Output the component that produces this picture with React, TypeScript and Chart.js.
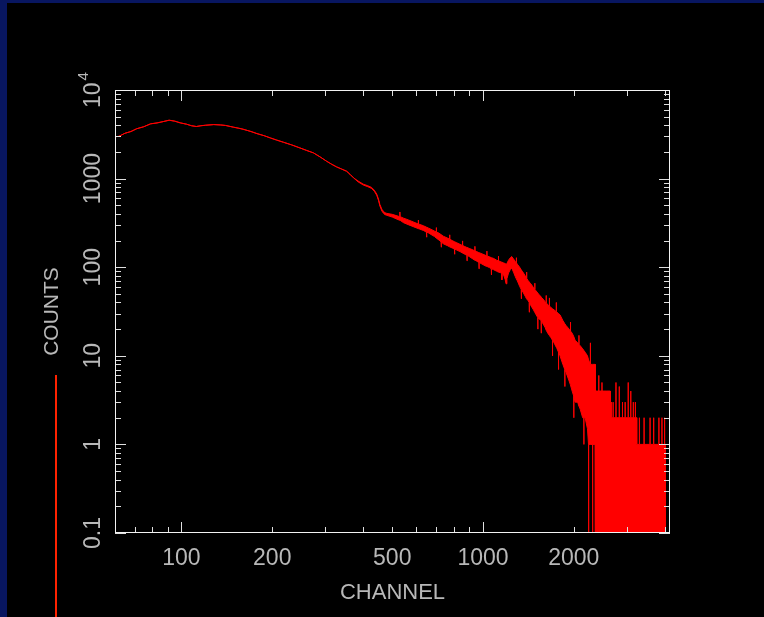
import React, { useEffect, useRef } from "react";
import { Chart, registerables } from "chart.js";

Chart.register(...registerables);

// ---- data (upper / lower envelope of the noisy histogram) ----
const smoothChannels = [
  60, 62, 65, 68, 71, 75, 79, 83, 87, 91, 95, 99, 104, 108, 112, 116, 120, 128, 135, 140,
  149, 155, 160, 170, 178, 188, 197, 207, 218, 232, 247, 260, 274, 288, 303, 315, 327, 340,
  353, 362, 372, 385, 401, 415, 427, 436, 444, 450, 455, 462, 468, 473,
];
const smoothHigh = [
  2960, 3000, 3250, 3400, 3650, 3850, 4150, 4250, 4400, 4560, 4450, 4260, 4110, 3950, 3870, 3950, 4000, 4070, 4030, 3980,
  3800, 3700, 3610, 3400, 3220, 3050, 2880, 2720, 2570, 2400, 2220, 2080, 1950, 1760, 1570, 1450, 1355, 1280,
  1210, 1120, 1020, 940, 865, 830, 795, 740, 670, 590, 510, 450, 425, 412,
];
const smoothLow = [
  2960, 3000, 3250, 3400, 3650, 3850, 4150, 4250, 4400, 4560, 4450, 4260, 4110, 3950, 3870, 3950, 4000, 4070, 4030, 3980,
  3800, 3700, 3610, 3400, 3220, 3050, 2880, 2720, 2570, 2400, 2220, 2080, 1950, 1760, 1570, 1450, 1355, 1280,
  1210, 1120, 1020, 920, 845, 810, 775, 720, 650, 570, 490, 430, 405, 392,
];

const midChannels = [
  480, 500, 525, 529, 530, 531, 545, 565, 590, 609, 610, 611, 615, 634, 649, 650, 651, 660,
  690, 699, 700, 701, 715, 726, 727, 728, 738, 765, 774, 775, 776, 790, 804, 805, 806, 815,
  839, 854, 855, 856, 870, 884, 885, 886, 900, 925, 939, 940, 941, 953, 969, 970, 971, 985,
  1015, 1029, 1030, 1031, 1050, 1065, 1066, 1067, 1082, 1110, 1124, 1125, 1126, 1140, 1154, 1155, 1156, 1167,
  1185, 1192, 1200, 1215, 1232, 1245, 1262, 1280, 1289, 1290, 1291, 1300, 1325, 1339, 1340, 1341, 1350, 1380,
  1394, 1395, 1396, 1410, 1423, 1424, 1425, 1440, 1470, 1484, 1485, 1486, 1500, 1519, 1520, 1521, 1535,
  1559, 1560, 1561, 1570, 1605, 1619, 1620, 1621, 1640, 1659, 1660, 1661, 1680, 1699, 1700, 1701, 1720,
  1749, 1750, 1751, 1760, 1779, 1780, 1781, 1800, 1840, 1867, 1868, 1869, 1885, 1930, 1949, 1950, 1951, 1975,
  1999, 2000, 2001, 2020, 2060, 2079, 2080, 2081, 2100, 2140, 2159, 2160, 2161, 2180, 2220, 2238, 2240, 2242,
  2269, 2270, 2271, 2309, 2310, 2311, 2355,
];
const midHigh = [
  405, 395, 375, 372, 420, 372, 358, 342, 322, 308, 340, 308, 305, 294, 283, 283, 283, 276,
  256, 250, 280, 250, 242, 233, 233, 233, 224, 212, 207, 232, 207, 200, 194, 194, 194, 190,
  181, 176, 198, 176, 171, 167, 167, 167, 163, 157, 153, 172, 153, 150, 146, 146, 146, 143,
  137, 134, 152, 134, 131, 128, 128, 128, 126, 120, 118, 133, 118, 116, 114, 114, 114, 112,
  110, 108, 110, 120, 128, 132, 124, 116, 112, 128, 112, 108, 99, 93, 93, 93, 90, 80,
  75, 88, 75, 71, 68, 68, 68, 65, 59, 56, 66, 56, 54, 51, 51, 51, 49,
  46, 46, 46, 45, 41, 39.5, 48, 39.5, 38, 36.5, 45, 36.5, 35, 34, 34, 34, 33,
  31.5, 40, 31.5, 31, 30, 30, 30, 29, 25, 23, 23, 23, 22, 20, 19, 24, 19, 18,
  16.5, 16.5, 16.5, 15, 14, 13.5, 17, 13.5, 13, 12, 11.5, 11.5, 11.5, 11, 10, 9, 9, 9,
  8, 14, 8, 8, 8, 8, 8,
];
const midLow = [
  385, 368, 342, 338, 338, 338, 318, 302, 285, 273, 273, 273, 270, 260, 249, 218, 249, 243,
  222, 214, 214, 214, 202, 193, 168, 193, 184, 174, 170, 170, 170, 165, 160, 140, 160, 157,
  150, 145, 145, 145, 140, 136, 118, 136, 132, 124, 120, 120, 120, 117, 113, 96, 113, 110,
  104, 102, 102, 102, 99, 96, 82, 96, 94, 90, 88, 88, 88, 87, 85, 72, 85, 84,
  72, 65, 74, 86, 94, 98, 88, 78, 74, 74, 74, 70, 60, 56, 44, 56, 54, 47,
  44, 44, 44, 42, 40, 31, 40, 37, 33, 31, 31, 31, 29, 27, 20, 27, 26,
  25, 18, 25, 24, 21, 19.5, 19.5, 19.5, 18, 17, 17, 17, 16, 15, 10, 15, 14,
  12.5, 12.5, 12.5, 12, 11, 7, 11, 10, 8, 7, 4.5, 7, 6.5, 5.2, 4.7, 4.7, 4.7, 4,
  3.5, 2, 3.5, 3, 3, 2.7, 2.7, 2.7, 2.5, 2, 2, 1, 2, 2, 1.5, 1, 0.05, 1,
  1, 1, 1, 1, 0.05, 1, 1,
];

// tail: integer counts, empty channels (0) drawn below the axis floor
const tailChannels = [
  2358, 2400, 2419, 2420, 2421, 2479, 2480, 2481, 2560, 2643, 2645, 2659, 2661,
  2699, 2700, 2701, 2759, 2760, 2761, 2829, 2830, 2831, 2899, 2900, 2901,
  2959, 2960, 2961, 3029, 3030, 3031, 3089, 3090, 3091, 3149, 3150, 3151, 3199, 3200, 3201,
  3232, 3234,
  3299, 3300, 3301, 3419, 3420, 3421, 3579, 3580, 3581, 3679, 3680, 3681,
  3829, 3830, 3831, 3919, 3920, 3921, 3999, 4000, 4001, 4045,
];
const tailHigh = [
  4, 4, 4, 6, 4, 4, 5, 4, 4, 4, 3, 3, 2,
  2, 3, 2, 2, 5, 2, 2, 4.5, 2, 2, 3, 2,
  2, 3, 2, 2, 5, 2, 2, 4, 2, 2, 3, 2, 2, 3, 2,
  2, 1,
  1, 2, 1, 1, 2, 1, 1, 2, 1, 1, 2, 1,
  1, 2, 1, 1, 2, 1, 1, 2, 1, 1,
];
const tailLow = [
  0.05, 0.05, 0.05, 0.05, 0.05, 0.05, 0.05, 0.05, 0.05, 0.05, 0.05, 0.05, 0.05,
  0.05, 0.05, 0.05, 0.05, 0.05, 0.05, 0.05, 0.05, 0.05, 0.05, 0.05, 0.05,
  0.05, 0.05, 0.05, 0.05, 0.05, 0.05, 0.05, 0.05, 0.05, 0.05, 0.05, 0.05, 0.05, 0.05, 0.05,
  0.05, 0.05,
  0.05, 0.05, 0.05, 0.05, 0.05, 0.05, 0.05, 0.05, 0.05, 0.05, 0.05, 0.05,
  0.05, 0.05, 0.05, 0.05, 0.05, 0.05, 0.05, 0.05, 0.05, 0.05,
];

const xTickValues = [100, 200, 500, 1000, 2000];
const xTickLabels = ["100", "200", "500", "1000", "2000"];
const yTickValues = [0.1, 1, 10, 100, 1000, 10000];
const yTickLabels = ["0.1", "1", "10", "100", "1000", "10^4"];
const xTitle = "CHANNEL";
const yTitle = "COUNTS";

const X_MIN = 60.2;
const X_MAX = 4169;
const Y_MIN = 0.1;
const Y_MAX = 10000;

const FONT = '"Liberation Sans", Arial, sans-serif';
const TEXT = "#b8b8b8";

const framePlugin = {
  id: "frame",
  beforeDraw(chart: any) {
    const ctx = chart.ctx;
    ctx.save();
    ctx.fillStyle = "#000000";
    ctx.fillRect(0, 0, chart.width, chart.height);
    ctx.fillStyle = "#081660";
    ctx.fillRect(0, 0, chart.width, 3);
    ctx.fillRect(0, 0, 7, chart.height);
    ctx.restore();
  },
  afterDraw(chart: any) {
    const ctx = chart.ctx;
    const a = chart.chartArea;
    const xs = chart.scales.x;
    const ys = chart.scales.y;
    ctx.save();
    ctx.strokeStyle = "#e0e0e0";
    ctx.lineWidth = 1;
    ctx.beginPath();
    for (let e = -1; e <= 4; e++) {
      for (let k = 1; k <= 9; k++) {
        const v = k * Math.pow(10, e);
        if (v < Y_MIN - 1e-9 || v > Y_MAX + 1e-9) continue;
        const len = k === 1 ? 11 : 6;
        const py = Math.round(ys.getPixelForValue(v)) + 0.5;
        ctx.moveTo(a.left, py);
        ctx.lineTo(a.left + len, py);
        ctx.moveTo(a.right, py);
        ctx.lineTo(a.right - len, py);
      }
    }
    for (let e = 1; e <= 3; e++) {
      for (let k = 1; k <= 9; k++) {
        const v = k * Math.pow(10, e);
        if (v < X_MIN || v > X_MAX) continue;
        const len = k === 1 ? 11 : 6;
        const px = Math.round(xs.getPixelForValue(v)) + 0.5;
        ctx.moveTo(px, a.bottom);
        ctx.lineTo(px, a.bottom - len);
        ctx.moveTo(px, a.top);
        ctx.lineTo(px, a.top + len);
      }
    }
    ctx.stroke();
    ctx.strokeStyle = "#f2f2f2";
    ctx.strokeRect(a.left + 0.5, a.top + 0.5, a.right - a.left - 1, a.bottom - a.top - 1);

    ctx.fillStyle = TEXT;
    ctx.font = `23px ${FONT}`;
    ctx.textAlign = "center";
    ctx.textBaseline = "alphabetic";
    xTickValues.forEach((v, i) => {
      ctx.fillText(xTickLabels[i], xs.getPixelForValue(v), 565);
    });
    ctx.font = `22px ${FONT}`;
    ctx.fillText(xTitle, (a.left + a.right) / 2, 599);

    yTickValues.forEach((v, i) => {
      const py = ys.getPixelForValue(v);
      ctx.save();
      ctx.translate(100, py);
      ctx.rotate(-Math.PI / 2);
      const lab = yTickLabels[i];
      if (lab.includes("^")) {
        const [base, exp] = lab.split("^");
        ctx.font = `23px ${FONT}`;
        const w1 = ctx.measureText(base).width;
        ctx.font = `15px ${FONT}`;
        const w2 = ctx.measureText(exp).width;
        const start = -(w1 + w2 + 2) / 2;
        ctx.textAlign = "left";
        ctx.font = `23px ${FONT}`;
        ctx.fillText(base, start, 0);
        ctx.font = `15px ${FONT}`;
        ctx.fillText(exp, start + w1 + 2, -12);
      } else {
        ctx.font = `23px ${FONT}`;
        ctx.textAlign = "center";
        ctx.fillText(lab, 0, 0);
      }
      ctx.restore();
    });

    ctx.save();
    ctx.translate(58, 311.5);
    ctx.rotate(-Math.PI / 2);
    ctx.font = `21px ${FONT}`;
    ctx.textAlign = "center";
    ctx.fillText(yTitle, 0, 0);
    ctx.restore();

    ctx.fillStyle = "#ff2200";
    ctx.fillRect(55, 375, 2, chart.height - 375);
    ctx.restore();
  },
};

export default function App() {
  const ref = useRef<HTMLCanvasElement | null>(null);

  useEffect(() => {
    if (!ref.current) return;
    const channels = [...smoothChannels, ...midChannels, ...tailChannels];
    const countsHigh = [...smoothHigh, ...midHigh, ...tailHigh];
    const countsLow = [...smoothLow, ...midLow, ...tailLow];
    const high = channels.map((c, i) => ({ x: c, y: countsHigh[i] }));
    const low = channels.map((c, i) => ({ x: c, y: countsLow[i] }));
    const chart = new Chart(ref.current, {
      type: "line",
      data: {
        datasets: [
          {
            data: high,
            borderColor: "#ff0000",
            borderWidth: 1,
            pointRadius: 0,
            fill: false,
            tension: 0,
          },
          {
            data: low,
            borderColor: "#ff0000",
            borderWidth: 1,
            pointRadius: 0,
            fill: "-1",
            backgroundColor: "#ff0000",
            tension: 0,
          },
        ],
      },
      options: {
        responsive: false,
        animation: false,
        events: [],
        layout: { padding: { left: 115, top: 90, right: 94, bottom: 84 } },
        scales: {
          x: { type: "logarithmic", min: X_MIN, max: X_MAX, display: false },
          y: { type: "logarithmic", min: Y_MIN, max: Y_MAX, display: false },
        },
        plugins: {
          legend: { display: false },
          tooltip: { enabled: false },
        },
      },
      plugins: [framePlugin],
    });
    return () => chart.destroy();
  }, []);

  return (
    <div style={{ position: "fixed", left: 0, top: 0, width: 764, height: 617, background: "#000" }}>
      <canvas ref={ref} width={764} height={617} style={{ display: "block", width: 764, height: 617 }} />
    </div>
  );
}
